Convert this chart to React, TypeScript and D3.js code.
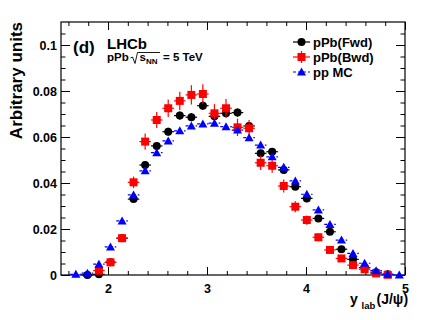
import React, { useRef, useEffect } from "react";
import * as d3 from "d3";

// bin centres of the y_lab histogram
const binCenters = [
  1.675, 1.792, 1.908, 2.025, 2.142, 2.258, 2.375, 2.492, 2.608, 2.725,
  2.842, 2.958, 3.075, 3.192, 3.308, 3.425, 3.542, 3.658, 3.775, 3.892,
  4.008, 4.125, 4.242, 4.358, 4.475, 4.592, 4.708, 4.825, 4.942,
];
const binHalfWidth = 0.0583;

const fwdValues = [
  null, 0.0, 0.0003, 0.0055, 0.016, 0.033, 0.0478, 0.0561, 0.0623, 0.0693,
  0.0686, 0.0736, 0.069, 0.0703, 0.0706, 0.0648, 0.0529, 0.0536, 0.0457, 0.0384,
  0.0333, 0.0246, 0.0188, 0.0112, 0.0068, 0.0032, 0.0012, 0.0003, null,
];
const fwdErrors = [
  0, 0.0002, 0.0004, 0.0008, 0.001, 0.0013, 0.0015, 0.0016, 0.0017, 0.0018,
  0.0018, 0.0018, 0.0018, 0.0018, 0.0018, 0.0017, 0.0016, 0.0016, 0.0015, 0.0014,
  0.0013, 0.0011, 0.001, 0.0008, 0.0006, 0.0004, 0.0003, 0.0002, 0,
];

const bwdValues = [
  null, null, 0.0019, 0.0055, 0.016, 0.0403, 0.058, 0.0674, 0.0725, 0.0757,
  0.0783, 0.0787, 0.0703, 0.0725, 0.0642, 0.0638, 0.0488, 0.0475, 0.0387, 0.0297,
  0.0239, 0.0164, 0.0109, 0.0072, 0.0043, 0.0025, 0.0007, 0.0001, null,
];
const bwdErrors = [
  0, 0, 0.0008, 0.0012, 0.0015, 0.0025, 0.0035, 0.0035, 0.0038, 0.004,
  0.0042, 0.0042, 0.004, 0.004, 0.0038, 0.0036, 0.0032, 0.003, 0.0028, 0.0024,
  0.002, 0.0017, 0.0014, 0.0011, 0.0009, 0.0007, 0.0004, 0.0002, 0,
];

const mcValues = [
  0.0003, 0.0008, 0.0047, 0.0122, 0.0235, 0.0348, 0.0453, 0.0532, 0.0583, 0.0627,
  0.0648, 0.0657, 0.066, 0.0645, 0.063, 0.0597, 0.0565, 0.0514, 0.0468, 0.0409,
  0.0351, 0.0283, 0.022, 0.0152, 0.0094, 0.0051, 0.0019, 0.0003, 0.0,
];
const mcErrors = mcValues.map(() => 0.0006);

const xMajorTicks = [2, 3, 4, 5];
const xMinorTicks = [1.6, 1.8, 2.2, 2.4, 2.6, 2.8, 3.2, 3.4, 3.6, 3.8, 4.2, 4.4, 4.6, 4.8];
const yMajorTicks = [0, 0.02, 0.04, 0.06, 0.08, 0.1];
const yMinorTicks = [
  0.005, 0.01, 0.015, 0.025, 0.03, 0.035, 0.045, 0.05, 0.055, 0.065, 0.07, 0.075,
  0.085, 0.09, 0.095, 0.105,
];

const legendLabels = ["pPb(Fwd)", "pPb(Bwd)", "pp MC"];

export default function App() {
  const ref = useRef<SVGSVGElement>(null);

  useEffect(() => {
    const width = 427;
    const height = 320;
    const margin = { top: 22, right: 22, bottom: 45, left: 61 };
    const font = "'Liberation Sans', Arial, Helvetica, sans-serif";

    const svg = d3.select(ref.current);
    svg.selectAll("*").remove();
    svg.attr("width", width).attr("height", height);

    const x = d3.scaleLinear().domain([1.525, 5]).range([margin.left, width - margin.right]);
    const y = d3.scaleLinear().domain([0, 0.11]).range([height - margin.bottom, margin.top]);
    const x0 = margin.left;
    const x1 = width - margin.right;
    const y0 = height - margin.bottom;
    const y1 = margin.top;

    svg.append("rect").attr("width", width).attr("height", height).attr("fill", "#fff");

    // axes (ticks pointing inward, mirrored on top/right)
    const bottom = svg
      .append("g")
      .attr("transform", `translate(0,${y0})`)
      .call(d3.axisBottom(x).tickValues(xMajorTicks).tickSize(-8).tickPadding(9).tickFormat((d) => String(d)));
    bottom.select(".domain").remove();
    bottom.selectAll("text").attr("font-family", font).attr("font-weight", "bold").attr("font-size", 12.5).attr("fill", "#000");

    svg.append("g").attr("transform", `translate(0,${y0})`)
      .call(d3.axisBottom(x).tickValues(xMinorTicks).tickSize(-4).tickFormat(() => ""))
      .select(".domain").remove();
    svg.append("g").attr("transform", `translate(0,${y1})`)
      .call(d3.axisTop(x).tickValues(xMajorTicks).tickSize(-8).tickFormat(() => ""))
      .select(".domain").remove();
    svg.append("g").attr("transform", `translate(0,${y1})`)
      .call(d3.axisTop(x).tickValues(xMinorTicks).tickSize(-4).tickFormat(() => ""))
      .select(".domain").remove();

    const left = svg
      .append("g")
      .attr("transform", `translate(${x0},0)`)
      .call(d3.axisLeft(y).tickValues(yMajorTicks).tickSize(-9).tickPadding(4).tickFormat((d) => String(d)));
    left.select(".domain").remove();
    left.selectAll("text").attr("font-family", font).attr("font-weight", "bold").attr("font-size", 12.5).attr("fill", "#000");

    svg.append("g").attr("transform", `translate(${x0},0)`)
      .call(d3.axisLeft(y).tickValues(yMinorTicks).tickSize(-4.5).tickFormat(() => ""))
      .select(".domain").remove();
    svg.append("g").attr("transform", `translate(${x1},0)`)
      .call(d3.axisRight(y).tickValues(yMajorTicks).tickSize(-9).tickFormat(() => ""))
      .select(".domain").remove();
    svg.append("g").attr("transform", `translate(${x1},0)`)
      .call(d3.axisRight(y).tickValues(yMinorTicks).tickSize(-4.5).tickFormat(() => ""))
      .select(".domain").remove();

    svg.selectAll(".tick line").attr("stroke", "#000").attr("stroke-width", 1);

    svg.append("rect")
      .attr("x", x0).attr("y", y1).attr("width", x1 - x0).attr("height", y0 - y1)
      .attr("fill", "none").attr("stroke", "#000").attr("stroke-width", 1.2);

    // data series
    const series = [
      { values: fwdValues, errors: fwdErrors, color: "#000", marker: "circle", dash: null },
      { values: bwdValues, errors: bwdErrors, color: "#ff0000", marker: "square", dash: null },
      { values: mcValues, errors: mcErrors, color: "#0000ff", marker: "triangle", dash: "3,2" },
    ];

    const drawMarker = (g, kind, cx, cy, color) => {
      if (kind === "circle") {
        g.append("circle").attr("cx", cx).attr("cy", cy).attr("r", 4).attr("fill", color);
      } else if (kind === "square") {
        g.append("rect").attr("x", cx - 4).attr("y", cy - 4).attr("width", 8).attr("height", 8).attr("fill", color);
      } else {
        g.append("path")
          .attr("d", `M${cx},${cy - 4.5}L${cx + 4.5},${cy + 3.5}L${cx - 4.5},${cy + 3.5}Z`)
          .attr("fill", color);
      }
    };

    series.forEach((s) => {
      const g = svg.append("g");
      binCenters.forEach((c, i) => {
        const v = s.values[i];
        if (v === null) return;
        const e = s.errors[i];
        g.append("line")
          .attr("x1", x(c - binHalfWidth)).attr("x2", x(c + binHalfWidth))
          .attr("y1", y(v)).attr("y2", y(v))
          .attr("stroke", s.color).attr("stroke-width", 1.2)
          .attr("stroke-dasharray", s.dash);
        if (e > 0) {
          g.append("line")
            .attr("x1", x(c)).attr("x2", x(c))
            .attr("y1", y(v - e)).attr("y2", y(v + e))
            .attr("stroke", s.color).attr("stroke-width", 1.2);
        }
        drawMarker(g, s.marker, x(c), y(v), s.color);
      });
    });

    // legend
    const legend = svg.append("g");
    series.forEach((s, i) => {
      const ly = 42 + i * 15;
      legend.append("line")
        .attr("x1", 293).attr("x2", 310).attr("y1", ly).attr("y2", ly)
        .attr("stroke", s.color).attr("stroke-width", 1.2)
        .attr("stroke-dasharray", s.dash);
      if (s.marker === "square") {
        legend.append("line").attr("x1", 301.5).attr("x2", 301.5).attr("y1", ly - 6).attr("y2", ly + 6)
          .attr("stroke", s.color).attr("stroke-width", 1.2);
      }
      drawMarker(legend, s.marker, 301.5, ly, s.color);
      legend.append("text")
        .attr("x", 313).attr("y", ly + 4.5)
        .attr("font-family", font).attr("font-weight", "bold").attr("font-size", 13)
        .text(legendLabels[i]);
    });

    // labels
    const txt = (tx, ty, size, str) =>
      svg.append("text").attr("x", tx).attr("y", ty)
        .attr("font-family", font).attr("font-weight", "bold").attr("font-size", size).text(str);

    txt(73, 53, 17, "(d)");
    txt(107, 48.5, 15, "LHCb");
    txt(107, 61, 11.5, "pPb");
    svg.append("path")
      .attr("d", "M130.5,58 L132.5,57 L135,63.5 L137.5,52.5 L160,52.5")
      .attr("fill", "none").attr("stroke", "#000").attr("stroke-width", 0.9);
    txt(139.5, 61, 11.5, "s");
    txt(146, 63.5, 8, "NN");
    txt(163, 61, 11.5, "= 5 TeV");

    svg.append("text")
      .attr("transform", "translate(22,22) rotate(-90)")
      .attr("text-anchor", "end")
      .attr("font-family", font).attr("font-weight", "bold").attr("font-size", 17)
      .text("Arbitrary units");

    txt(350, 304, 14, "y");
    txt(361.5, 308.5, 9.5, "lab");
    txt(376.5, 304, 14, "(J/ψ)");
  }, []);

  return <svg ref={ref} style={{ position: "absolute", left: 0, top: 0 }}></svg>;
}
